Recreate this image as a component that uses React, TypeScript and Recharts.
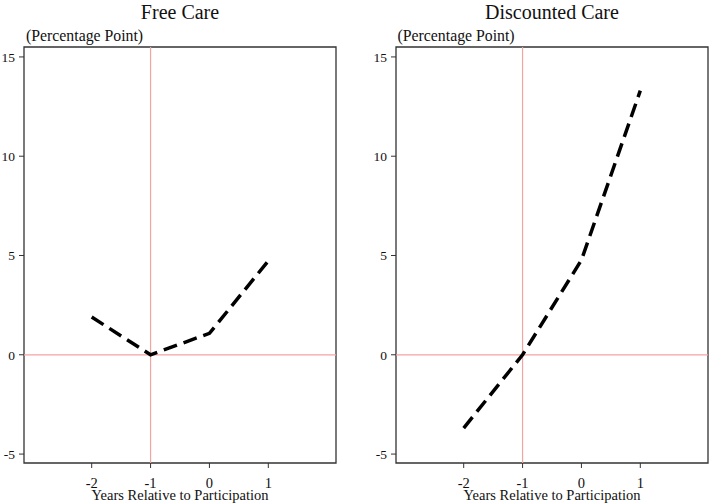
import React from "react";
import {
  LineChart,
  Line,
  XAxis,
  YAxis,
  ReferenceLine,
  ReferenceArea,
} from "recharts";

const years = [-2, -1, 0, 1];
const freeCare = [1.9, 0, 1.08, 4.73];
const discountedCare = [-3.69, 0, 4.77, 13.3];
const xTicks = [-2, -1, 0, 1];
const yTicks = [-5, 0, 5, 10, 15];

const X_DOMAIN: [number, number] = [-3.15, 2.15];
const Y_DOMAIN: [number, number] = [-5.45, 15.5];
const FONT = "'Liberation Serif', 'Times New Roman', serif";
const PINK = "#f4a3a3";
const BOX = "#333";

type PanelProps = {
  values: number[];
  left: number;
  width: number;
  marginRight: number;
};

function Panel({ values, left, width, marginRight }: PanelProps) {
  const data = years.map((y, i) => ({ year: y, v: values[i] }));
  return (
    <div style={{ position: "absolute", left, top: 0 }}>
      <LineChart
        width={width}
        height={504}
        data={data}
        margin={{ top: 47, right: marginRight, bottom: 0, left: 0 }}
        style={{ fontFamily: FONT }}
      >
        <XAxis
          dataKey="year"
          type="number"
          domain={X_DOMAIN}
          ticks={xTicks}
          allowDataOverflow
          height={41}
          axisLine={false}
          tickLine={{ stroke: BOX }}
          tickSize={5}
          tickMargin={10}
          tick={{ fill: "#111", fontSize: 14.5, fontFamily: FONT }}
          label={{
            value: "Years Relative to Participation",
            position: "insideBottom",
            offset: 4.5,
            fill: "#111",
            fontSize: 14.5,
            fontFamily: FONT,
          }}
        />
        <YAxis
          type="number"
          domain={Y_DOMAIN}
          ticks={yTicks}
          allowDataOverflow
          width={24}
          axisLine={false}
          tickLine={{ stroke: BOX }}
          tickSize={5}
          tickMargin={4}
          tick={{ fill: "#111", fontSize: 13.5, fontFamily: FONT }}
        />
        <ReferenceLine x={-1} stroke={PINK} strokeWidth={1.2} />
        <ReferenceLine y={0} stroke={PINK} strokeWidth={1.2} />
        <ReferenceArea
          x1={X_DOMAIN[0]}
          x2={X_DOMAIN[1]}
          y1={Y_DOMAIN[0]}
          y2={Y_DOMAIN[1]}
          fill="none"
          stroke={BOX}
          strokeWidth={1.3}
          ifOverflow="visible"
        />
        <Line
          type="linear"
          dataKey="v"
          stroke="#000"
          strokeWidth={3.5}
          strokeDasharray="14 7"
          dot={false}
          activeDot={false}
          isAnimationActive={false}
        />
      </LineChart>
    </div>
  );
}

export default function App() {
  return (
    <div
      style={{
        position: "absolute",
        left: 0,
        top: 0,
        width: 709,
        height: 504,
        background: "#fff",
      }}
    >
      <Panel values={freeCare} left={0} width={354} marginRight={18} />
      <Panel values={discountedCare} left={372} width={337} marginRight={1} />
      <svg
        width={709}
        height={504}
        style={{ position: "absolute", left: 0, top: 0, pointerEvents: "none" }}
      >
        <g fontFamily={FONT} fill="#111">
          <text x={180} y={19} fontSize={20} textAnchor="middle">
            Free Care
          </text>
          <text x={552} y={19} fontSize={20} textAnchor="middle">
            Discounted Care
          </text>
          <text x={26} y={40.5} fontSize={15.8}>
            (Percentage Point)
          </text>
          <text x={397.5} y={40.5} fontSize={15.8}>
            (Percentage Point)
          </text>
        </g>
      </svg>
    </div>
  );
}
